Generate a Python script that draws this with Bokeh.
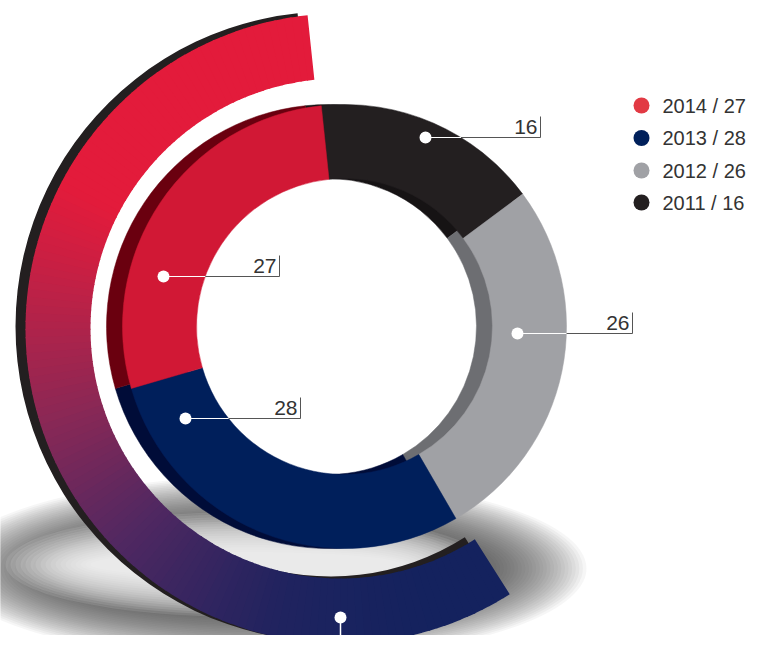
import numpy as np
from bokeh.plotting import figure
from bokeh.models import Range1d
from bokeh.core.properties import value
from bokeh.embed import file_html
from bokeh.resources import INLINE

# ---------------- data ----------------
years = ["2014", "2013", "2012", "2011"]
values = [27, 28, 26, 16]
face_colors = ["#D11835", "#001F5B", "#A0A1A5", "#231F20"]
side_colors = ["#6A000F", "#000C38", "#6D6E72", "#161314"]
legend_colors = ["#E23A44", "#00205B", "#A0A1A5", "#231F20"]
legend_labels = [f"{y} / {v}" for y, v in zip(years, values)]

# ---------------- layout (reference pixel space, y measured downwards) ----------------
PW, PH = 749, 635
H = 651


def Y(y):
    return H - y


CX, CY = 344, 326
R_IN, R_OUT = 148, 222
DEPTH = 16
START_DEG = 96

ARC_CX, ARC_CY = 340, 328
ARC_RIN, ARC_ROUT = 250, 315
ARC_START, ARC_END = 96, 302.5
ARC_DEPTH = 10

FONT = value("Liberation Sans")
TEXT_COLOR = "#333333"
LINE_COLOR = "#555555"

# label anchors: year -> (dot x, dot y, tick x)
label_anchor = {
    "2011": (425, 137, 540),
    "2012": (517, 333, 632),
    "2014": (163, 276, 279),
    "2013": (185, 418, 300),
}

p = figure(width=PW, height=PH, x_range=Range1d(0, PW), y_range=Range1d(H - PH, H),
           output_backend="svg", toolbar_location=None, min_border=0)
p.axis.visible = False
p.grid.visible = False
p.outline_line_color = None
p.background_fill_color = "white"

# ---------------- shadow (soft elliptical ring) ----------------
n = 26
for k in range(n):
    t = k / (n - 1)
    p.ellipse(x=266, y=Y(568), width=640 - t * 180, height=185 - t * 85,
              fill_color="#3A3B40", fill_alpha=0.047, line_color=None)
m = 18
for k in range(m):
    t = k / (m - 1)
    p.ellipse(x=245, y=Y(564), width=480 - t * 170, height=105 - t * 80,
              fill_color="white", fill_alpha=0.11, line_color=None)

# ---------------- outer arc (extrusion + gradient face) ----------------
p.annular_wedge(x=ARC_CX - ARC_DEPTH, y=Y(ARC_CY) + 2, inner_radius=ARC_RIN, outer_radius=ARC_ROUT,
                start_angle=np.deg2rad(ARC_START), end_angle=np.deg2rad(ARC_END),
                direction="anticlock", fill_color="#231F20", line_color=None)

N = 140
edges = np.linspace(np.deg2rad(ARC_START), np.deg2rad(ARC_END), N + 1)
mids = (edges[:-1] + edges[1:]) / 2
rm = (ARC_RIN + ARC_ROUT) / 2
sproj = rm * np.cos(mids) * 0.45 + (-rm * np.sin(mids)) * 0.89
stops_s = [-230, -160, -40, 80, 220, 300]
stops_c = np.array([[227, 27, 59], [190, 33, 70], [135, 40, 86], [82, 40, 97], [32, 35, 95], [16, 34, 94]])
grad_cols = ["#%02x%02x%02x" % tuple(int(round(np.interp(si, stops_s, stops_c[:, k]))) for k in range(3))
             for si in sproj]
ends = edges[1:].copy()
ends[:-1] += 0.004
p.annular_wedge(x=ARC_CX, y=Y(ARC_CY), inner_radius=ARC_RIN, outer_radius=ARC_ROUT,
                start_angle=edges[:-1], end_angle=ends, direction="anticlock",
                fill_color=grad_cols, line_color=None)

# ---------------- inner donut ----------------
order = [3, 2, 1, 0]  # 2011, 2012, 2013, 2014 clockwise from the top
total = float(sum(values))
ang = np.deg2rad(START_DEG)
starts, stops, fc, sc = [], [], [], []
for i in order:
    span = values[i] / total * 2 * np.pi
    starts.append(ang)
    stops.append(ang - span)
    fc.append(face_colors[i])
    sc.append(side_colors[i])
    ang -= span

p.annular_wedge(x=CX - DEPTH, y=Y(CY), inner_radius=R_IN, outer_radius=R_OUT,
                start_angle=starts, end_angle=stops, direction="clock",
                fill_color=sc, line_color=sc, line_width=0.5)
p.annular_wedge(x=CX, y=Y(CY), inner_radius=R_IN, outer_radius=R_OUT,
                start_angle=starts, end_angle=stops, direction="clock",
                fill_color=fc, line_color=fc, line_width=0.5)

# ---------------- value labels ----------------
for yr, v in zip(years, values):
    dx_, dy_, tx = label_anchor[yr]
    dyc = dy_ - CY
    if dx_ > CX:
        cross = CX + np.sqrt(R_OUT ** 2 - dyc ** 2)
    else:
        cross = CX - np.sqrt(R_IN ** 2 - dyc ** 2)
    p.line(x=[cross, tx], y=[Y(dy_), Y(dy_)], line_color=LINE_COLOR, line_width=1)
    p.line(x=[dx_, cross], y=[Y(dy_), Y(dy_)], line_color="white", line_width=1.2)
    p.line(x=[tx, tx], y=[Y(dy_), Y(dy_) + 21], line_color=LINE_COLOR, line_width=1)
    p.scatter(x=[dx_], y=[Y(dy_)], size=12, fill_color="white", line_color=None)
    p.text(x=[tx - 3], y=[Y(dy_) + 4], text=[str(v)], text_font=FONT, text_font_size="21px",
           text_color=TEXT_COLOR, text_align="right", text_baseline="bottom")

# bottom marker of outer arc
p.line(x=[340, 340], y=[Y(617), Y(660)], line_color="white", line_width=1.5)
p.scatter(x=[340], y=[Y(617)], size=12, fill_color="white", line_color=None)

# ---------------- legend ----------------
leg_y = [105, 137.5, 170, 202]
p.scatter(x=[641] * 4, y=[Y(v) for v in leg_y], size=16, fill_color=legend_colors, line_color=None)
p.text(x=[662] * 4, y=[Y(v) for v in leg_y], text=legend_labels, text_font=FONT, text_font_size="20px",
       text_color=TEXT_COLOR, text_align="left", text_baseline="middle")

open("out.html", "w").write(file_html(p, INLINE))
